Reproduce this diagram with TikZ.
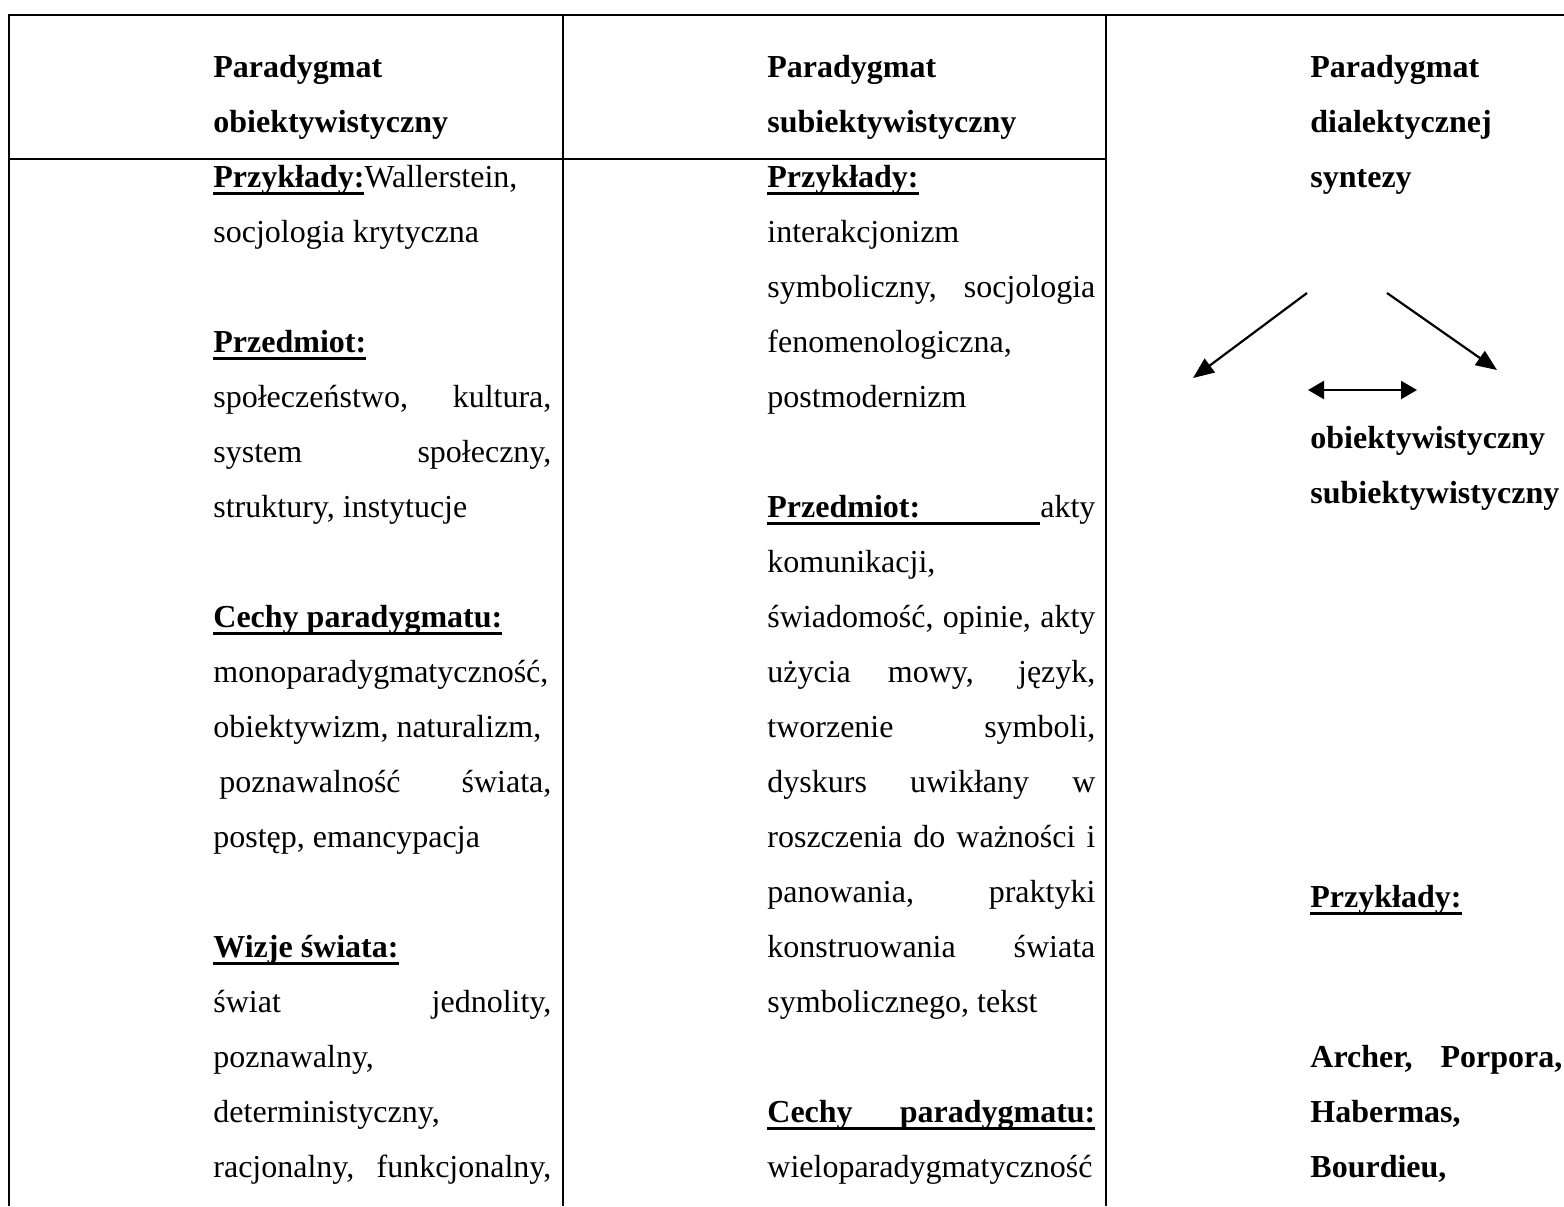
\documentclass[tikz,border=0pt]{standalone}
\usepackage{fontspec}
\setmainfont{Liberation Serif}
\usetikzlibrary{arrows.meta}

\newcommand{\ulw}[1]{{\setbox0\hbox{\bfseries#1}\rlap{\rule[-3.6pt]{\wd0}{1.4pt}}\box0}}
\newcommand{\ulsp}{{\bfseries\leaders\hrule height -2.2pt depth 3.6pt\hskip\fontdimen2\font plus\fontdimen3\font minus\fontdimen4\font}}

\begin{document}
\begin{tikzpicture}[x=0.5pt,y=-0.5pt,
    cell/.style={anchor=north west,inner sep=0pt,align=justify,
      font=\fontsize{16}{27.5}\selectfont\sloppy},
    head/.style={cell,font=\fontsize{16}{27.5}\selectfont\bfseries\sloppy},
    tabline/.style={line width=1.15pt},
    arr/.style={line width=1.1pt,-{Triangle[length=10.5pt,width=8.5pt]}},
    twoarr/.style={line width=1.1pt,{Triangle[length=8pt,width=9pt]}-{Triangle[length=8pt,width=9pt]}}]
    \useasboundingbox (0,0) rectangle (1564,1206);
    \draw[tabline] (1564,15) -- (9,15) -- (9,1206);
    \draw[tabline] (563,15) -- (563,1206);
    \draw[tabline] (1106,15) -- (1106,1206);
    \draw[tabline] (9,159) -- (1106,159);

    \node[head,text width=169pt] (objhead) at (213,38.5) {\strut Paradygmat\\obiektywistyczny};
    \node[head,text width=164pt] (subhead) at (767,38.5) {\strut Paradygmat\\subiektywistyczny};
    \node[head,text width=126pt] (dialhead) at (1310,38.5) {\strut Paradygmat\\dialektycznej\\syntezy};

    \node[cell,text width=169pt] (objbody) at (213,148.5) {\strut\ulw{Przykłady:}Wallerstein,\\
        socjologia krytyczna\\[27.5pt]
        \ulw{Przedmiot:}\\
        społeczeństwo, kultura,\linebreak
        system społeczny,\linebreak
        struktury, instytucje\\[27.5pt]
        \ulw{Cechy}\ulsp\ulw{paradygmatu:}\\
        monoparadygmatyczność,\\
        obiektywizm, naturalizm,\\
        \hspace*{3pt}poznawalność świata,\linebreak
        postęp, emancypacja\\[27.5pt]
        \ulw{Wizje}\ulsp\ulw{świata:}\\
        świat jednolity,\linebreak
        poznawalny,\\
        deterministyczny,\\
        racjonalny, funkcjonalny,\linebreak};
    \node[cell,text width=164pt] (subbody) at (767,148.5) {\strut\ulw{Przykłady:}\\
        interakcjonizm\\
        symboliczny, socjologia\linebreak
        fenomenologiczna,\\
        postmodernizm\\[27.5pt]
        \ulw{Przedmiot:}\ulsp akty\linebreak
        komunikacji,\\
        świadomość, opinie, akty\linebreak
        użycia mowy, język,\linebreak
        tworzenie symboli,\linebreak
        dyskurs uwikłany w\linebreak
        roszczenia do ważności i\linebreak
        panowania, praktyki\linebreak
        konstruowania świata\linebreak
        symbolicznego, tekst\\[27.5pt]
        \ulw{Cechy}\ulsp\ulw{paradygmatu:}\linebreak
        wieloparadygmatyczność};

    \coordinate (lstart) at (1307,293);
    \coordinate (lend) at (1193,378);
    \coordinate (rstart) at (1387,293);
    \coordinate (rend) at (1497,370);
    \coordinate (dleft) at (1308,390);
    \coordinate (dright) at (1417,390);
    \draw[arr] (lstart) -- (lend);
    \draw[arr] (rstart) -- (rend);
    \draw[twoarr] (dleft) -- (dright);

    \node[head,text width=126pt] (sides) at (1310,409.5) {\strut obiektywistyczny\\subiektywistyczny};
    \node[cell,text width=126pt] (dialex) at (1310,868.5) {\strut\ulw{Przykłady:}};
    \node[head,text width=126pt] (names) at (1310,1028.5) {\strut Archer, Porpora,\linebreak
        Habermas,\\
        Bourdieu,};
\end{tikzpicture}
\end{document}
